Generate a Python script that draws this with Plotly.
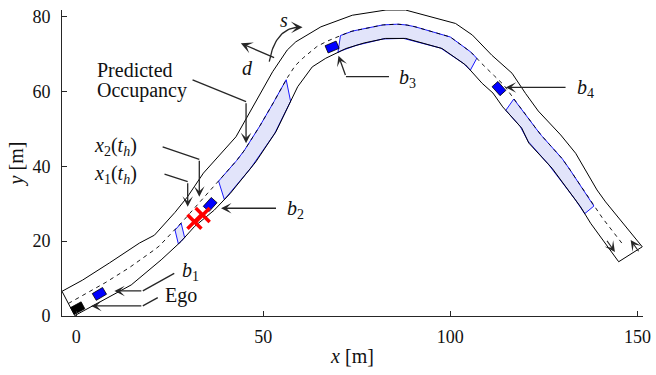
import numpy as np
import plotly.graph_objects as go

# ---------------- data ----------------
# road boundaries [m]
left_x = [-3.8, 1.7, 8.9, 16.9, 20.9, 26.4, 29.7, 34.0, 42.7, 48.0, 52.5, 56.4, 58.7, 65.4,
          73.8, 82.8, 88.0, 101.4, 105.9, 111.1, 116.5, 120.1, 123.5, 129.5, 133.5, 139.2, 141.5, 151.3]
left_y = [6.6, 9.6, 14.2, 19.5, 21.6, 27.7, 31.8, 38.2, 47.9, 57.3, 65.3, 71.1, 73.3, 77.3,
          80.4, 81.8, 81.8, 78.2, 75.1, 69.7, 64.9, 59.5, 54.8, 48.4, 43.5, 33.7, 30.5, 18.5]
right_x = [-0.4, 5.8, 14.7, 22.7, 28.0, 31.6, 36.9, 41.2, 48.0, 53.4, 59.2, 63.1, 66.7, 72.1,
           77.0, 82.7, 88.1, 97.8, 104.1, 108.5, 111.4, 114.0, 119.1, 121.0, 127.2, 134.8, 137.5, 145.0]
right_y = [0.1, 3.4, 8.3, 15.0, 19.9, 23.9, 28.3, 32.8, 41.2, 49.3, 61.3, 66.6, 68.9, 71.5,
           73.0, 74.2, 74.2, 71.5, 67.1, 62.2, 59.6, 55.9, 50.2, 46.2, 39.5, 29.2, 24.8, 14.5]

# vehicles
veh_labels = ["Ego", "b1", "b2", "b3", "b4"]
veh_x = [0.4, 6.2, 35.8, 68.4, 113.0]
veh_y = [2.1, 5.9, 29.8, 71.9, 60.8]
veh_colors = ["#000000", "#0000ff", "#0000ff", "#0000ff", "#0000ff"]
veh_length = 3.2
veh_width = 2.1

# predicted occupancies: start / end points on the centre line
occ_start_x = [26.2, 38.6, 70.7, 117.0]
occ_start_y = [23.0, 35.5, 75.1, 58.2]
occ_end_x = [28.0, 56.4, 106.7, 138.4]
occ_end_y = [24.8, 63.1, 68.6, 29.4]

# states x1(t_h), x2(t_h)
cross_x = [31.6, 33.8]
cross_y = [25.2, 27.0]

x_ticks = [0, 50, 100, 150]
y_ticks = [0, 20, 40, 60, 80]

# ---------------- geometry helpers ----------------
def resample(xs, ys, t):
    xs = np.asarray(xs, float); ys = np.asarray(ys, float)
    s = np.concatenate([[0], np.cumsum(np.hypot(np.diff(xs), np.diff(ys)))])
    s /= s[-1]
    return np.interp(t, s, xs), np.interp(t, s, ys)

N = 600
t = np.linspace(0, 1, N)
lx, ly = resample(left_x, left_y, t)
rx, ry = resample(right_x, right_y, t)
cx, cy = (lx + rx) / 2, (ly + ry) / 2
tx, ty = np.gradient(cx), np.gradient(cy)

def nearest(px, py):
    return int(np.argmin((cx - px) ** 2 + (cy - py) ** 2))

TXT = "#111111"
AX = "#262626"
FONT = "Liberation Serif"

fig = go.Figure()

# occupancies
for sx, sy, ex, ey in zip(occ_start_x, occ_start_y, occ_end_x, occ_end_y):
    i0, i1 = nearest(sx, sy), nearest(ex, ey)
    px = np.concatenate([cx[i0:i1 + 1], rx[i0:i1 + 1][::-1], [cx[i0]]])
    py = np.concatenate([cy[i0:i1 + 1], ry[i0:i1 + 1][::-1], [cy[i0]]])
    fig.add_trace(go.Scatter(x=px, y=py, mode="lines", fill="toself",
                             fillcolor="#e2e4fa", line=dict(color="#0000ff", width=0.9),
                             hoverinfo="skip", showlegend=False))

# road outline
road_x = np.concatenate([left_x, right_x[::-1], [left_x[0]]])
road_y = np.concatenate([left_y, right_y[::-1], [left_y[0]]])
fig.add_trace(go.Scatter(x=road_x, y=road_y, mode="lines",
                         line=dict(color="#000000", width=1), hoverinfo="skip", showlegend=False))

# centre line
fig.add_trace(go.Scatter(x=cx[:-10], y=cy[:-10], mode="lines",
                         line=dict(color="#000000", width=0.9, dash="4px,4px"),
                         hoverinfo="skip", showlegend=False))

# vehicles
for vx, vy, col in zip(veh_x, veh_y, veh_colors):
    i = nearest(vx, vy)
    ang = np.arctan2(ty[i], tx[i])
    c, s = np.cos(ang), np.sin(ang)
    corners = np.array([[-1, -1], [1, -1], [1, 1], [-1, 1], [-1, -1]]) * [veh_length / 2, veh_width / 2]
    bx = vx + corners[:, 0] * c - corners[:, 1] * s
    by = vy + corners[:, 0] * s + corners[:, 1] * c
    fig.add_trace(go.Scatter(x=bx, y=by, mode="lines", fill="toself", fillcolor=col,
                             line=dict(color="#000000", width=0.8),
                             hoverinfo="skip", showlegend=False))

# red crosses
fig.add_trace(go.Scatter(x=cross_x, y=cross_y, mode="markers",
                         marker=dict(symbol="x-thin", size=14,
                                     line=dict(color="#ff0000", width=3.5)),
                         hoverinfo="skip", showlegend=False))

# ---------------- annotation arrows ----------------
def polyline(pts):
    fig.add_trace(go.Scatter(x=[p[0] for p in pts], y=[p[1] for p in pts], mode="lines",
                             line=dict(color=AX, width=1.3), hoverinfo="skip", showlegend=False))

def arrow(tail, tip, size=1.35, width=1.3):
    fig.add_annotation(x=tip[0], y=tip[1], ax=tail[0], ay=tail[1], xref="x", yref="y",
                       axref="x", ayref="y", text="", showarrow=True, arrowhead=3,
                       arrowsize=size, arrowwidth=width, arrowcolor=AX, standoff=0)

def label(x, y, txt, anchor="left", size=20):
    fig.add_annotation(x=x, y=y, xref="x", yref="y", text=txt, showarrow=False,
                       xanchor=anchor, yanchor="middle",
                       font=dict(family=FONT, size=size, color=TXT))

# Predicted occupancy
polyline([(31.1, 63.1), (45.4, 57.3)])
arrow((45.4, 57.3), (45.4, 46.2))
label(5.0, 65.8, "Predicted")
label(5.0, 60.2, "Occupancy")

# x2(t_h)
polyline([(23.1, 45.2), (32.9, 41.9)])
arrow((32.9, 41.9), (32.9, 31.9))
label(4.2, 45.4, "<i>x</i><sub>2</sub>(<i>t</i><sub><i>h</i></sub>)")
# x1(t_h)
polyline([(23.6, 37.9), (29.8, 35.9)])
arrow((29.8, 35.9), (29.8, 29.2))
label(4.2, 37.9, "<i>x</i><sub>1</sub>(<i>t</i><sub><i>h</i></sub>)")

# b2
arrow((53.8, 28.8), (38.7, 28.8))
label(55.8, 28.6, "<i>b</i><sub>2</sub>")
# b1
polyline([(26.2, 11.4), (17.8, 6.7)])
arrow((17.8, 6.7), (10.2, 6.7))
label(27.8, 12.0, "<i>b</i><sub>1</sub>")
# Ego
polyline([(21.8, 4.9), (17.8, 2.7)])
arrow((17.8, 2.7), (4.0, 2.7))
label(23.2, 5.4, "Ego")

# b3
polyline([(83.6, 64.0), (72.1, 64.0)])
arrow((72.1, 64.0), (70.1, 69.6))
label(85.8, 63.6, "<i>b</i><sub>3</sub>")
# b4
arrow((131.2, 61.1), (114.8, 61.1))
label(133.4, 60.8, "<i>b</i><sub>4</sub>")

# s (curved) and d
bt = np.linspace(0, 1, 30)
P0, P1, P2 = np.array([51.6, 68.0]), np.array([53.3, 77.6]), np.array([60.5, 77.2])
bez = ((1 - bt)[:, None] ** 2) * P0 + (2 * (1 - bt) * bt)[:, None] * P1 + (bt[:, None] ** 2) * P2
polyline([tuple(p) for p in bez[:-3]])
arrow(tuple(bez[-4]), tuple(P2), size=1.5)
label(55.6, 79.0, "<i>s</i>", anchor="center")
arrow((53.3, 68.9), (44.0, 72.9), size=1.5)
label(45.8, 66.4, "<i>d</i>", anchor="center")

# small arrows at the end of the road
arrow((141.6, 20.5), (144.0, 17.1), size=1.6, width=1.1)
arrow((150.6, 16.9), (148.2, 20.3), size=1.6, width=1.1)

# ---------------- layout ----------------
fig.update_layout(
    width=656, height=375,
    margin=dict(l=62, r=13, t=10, b=59, autoexpand=False),
    plot_bgcolor="white", paper_bgcolor="white",
    font=dict(family=FONT, size=18, color=TXT),
    xaxis=dict(range=[-3.8, 151.5], tickvals=x_ticks, ticks="inside", ticklen=5,
               tickcolor=AX, showline=True, linecolor=AX, linewidth=1, showgrid=False,
               zeroline=False, mirror=False, ticklabelstandoff=4, automargin=False,
               tickfont=dict(family=FONT, size=18, color=TXT),
               title=dict(text="<i>x</i> [m]", standoff=3,
                          font=dict(family=FONT, size=20, color=TXT))),
    yaxis=dict(range=[0, 81.8], tickvals=y_ticks, ticks="inside", ticklen=5,
               tickcolor=AX, showline=True, linecolor=AX, linewidth=1, showgrid=False,
               zeroline=False, mirror=False, ticklabelstandoff=7, automargin=False,
               tickfont=dict(family=FONT, size=18, color=TXT),
               title=dict(text="<i>y</i> [m]", standoff=3,
                          font=dict(family=FONT, size=20, color=TXT))),
)

fig.write_html("out.html", config={"displayModeBar": False},
               post_script="document.body.style.margin='0';document.body.style.padding='0';")
